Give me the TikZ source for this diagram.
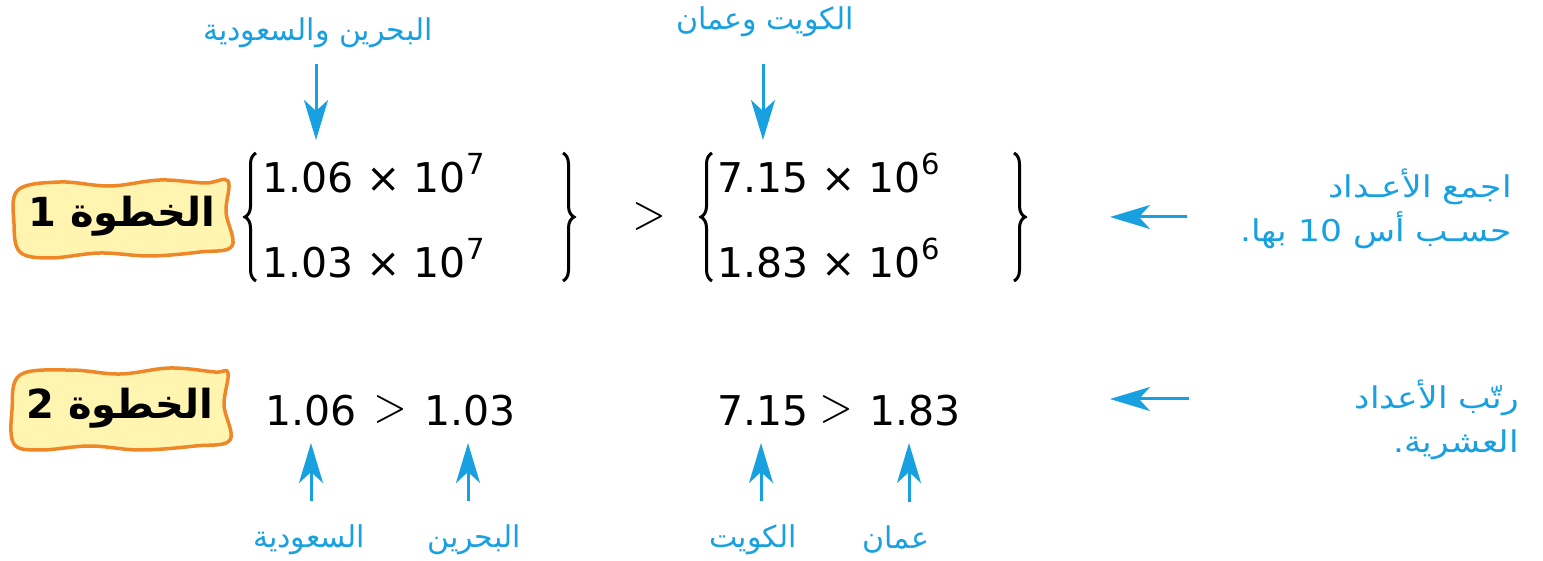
\documentclass[tikz,border=0pt]{standalone}
\usepackage{fontspec}
\setmainfont[Script=Latin]{DejaVu Sans}
\newfontfamily\numfont[Script=Latin]{DejaVu Sans}
\newfontfamily\arabicfont[Script=Arabic]{DejaVu Sans}
\newfontfamily\notefont[Script=Arabic,FakeStretch=1.15]{DejaVu Sans}
\TeXXeTstate=1
\usetikzlibrary{arrows.meta,decorations.pathreplacing}
\definecolor{cblue}{RGB}{24,160,224}
\definecolor{borange}{RGB}{238,135,40}
\definecolor{byellow}{RGB}{255,244,176}
\newcommand{\sq}[1]{\raisebox{18pt}{\fontsize{29}{29}\selectfont #1}}
\newcommand{\bigrel}{\scalebox{4.3}[4.8]{$>$}}
\begin{document}
\begin{tikzpicture}[x=1pt,y=-1pt,
 num/.style={font=\numfont\fontsize{41}{50}\selectfont, inner sep=0pt, anchor=base west},
 rel/.style={inner sep=0pt, anchor=center},
 lbl/.style={font=\arabicfont\fontsize{30}{36}\selectfont, text=cblue, inner sep=0pt},
 note/.style={font=\notefont\fontsize{30}{44}\selectfont, text=cblue, inner sep=0pt, align=right, anchor=north east},
 arr/.style={draw=cblue, line width=3pt, -{Stealth[length=40pt,width=24pt,inset=11pt]}},
 badge/.style={draw=borange, fill=byellow, line width=3.5pt},
 badgetext/.style={font=\arabicfont\bfseries\fontsize{40}{46}\selectfont, inner sep=0pt},
 bracestyle/.style={decorate, decoration={brace, amplitude=11pt}, line width=3pt}
]
\useasboundingbox (0,0) rectangle (1543,561);

% badges
\draw[badge] plot[smooth cycle, tension=0.6] coordinates {(18,190) (60,182) (110,186) (160,180) (205,183) (228,181) (226,212) (232,246) (200,252) (150,256) (100,253) (50,258) (20,252) (14,224)};
\node[badgetext] (b1) at (122,216) {\beginR الخطوة 1\endR};
\draw[badge] plot[smooth cycle, tension=0.6] coordinates {(20,375) (70,370) (120,374) (170,368) (215,372) (228,373) (224,405) (230,440) (195,446) (140,450) (90,446) (40,450) (14,444) (12,410)};
\node[badgetext] (b2) at (120,408) {\beginR الخطوة 2\endR};

% row 1 numbers
\node[num] (a1) at (262,193) {1.06 × 10\sq{7}};
\node[num] (a2) at (262,278) {1.03 × 10\sq{7}};
\node[num] (c1) at (717,193) {7.15 × 10\sq{6}};
\node[num] (c2) at (717,278) {1.83 × 10\sq{6}};
\node[rel] (gt) at (649,217) {\bigrel};
\draw[bracestyle] (256,281) -- (256,153);
\draw[bracestyle] (563,153) -- (563,281);
\draw[bracestyle] (712,281) -- (712,153);
\draw[bracestyle] (1014,153) -- (1014,281);

% row 2 numbers
\node[num] (r1a) at (265,425) {1.06};
\node[rel] (r1g) at (390,409) {\bigrel};
\node[num] (r1b) at (424,425) {1.03};
\node[num] (r2a) at (717,425) {7.15};
\node[rel] (r2g) at (836,409) {\bigrel};
\node[num] (r2b) at (869,425) {1.83};

% top labels
\node[lbl] (tA) at (318,33) {\beginR البحرين والسعودية\endR};
\node[lbl] (tB) at (765,22) {\beginR الكويت وعمان\endR};
\coordinate (tAe) at (316,140);
\coordinate (tBe) at (763,140);
\draw[arr] (tA.south -| tAe) ++(0,16) -- (tAe);
\draw[arr] (tB.south -| tBe) ++(0,27) -- (tBe);

% bottom labels
\node[lbl] (uA) at (309,540) {\beginR السعودية\endR};
\node[lbl] (uB) at (474,540) {\beginR البحرين\endR};
\node[lbl] (uC) at (753,540) {\beginR الكويت\endR};
\node[lbl] (uD) at (896,540) {\beginR عمان\endR};
\coordinate (uAe) at (311,443);
\coordinate (uBe) at (468,443);
\coordinate (uCe) at (761,443);
\coordinate (uDe) at (909,443);
\draw[arr] (uA.north -| uAe) ++(0,-24) -- (uAe);
\draw[arr] (uB.north -| uBe) ++(0,-24) -- (uBe);
\draw[arr] (uC.north -| uCe) ++(0,-24) -- (uCe);
\draw[arr] (uD.north -| uDe) ++(0,-24) -- (uDe);

% right notes
\node[note] (s1) at (1512,169)
 {\beginR اجمع الأعـداد\endR\\\beginR حسـب أس \beginL10\endL{} بها.\endR};
\node[note] (s2) at (1519,380)
 {\beginR رتّب الأعداد\endR\\\beginR العشرية.\endR};
\coordinate (s1s) at (1187,217);
\coordinate (s1e) at (1110,217);
\coordinate (s2s) at (1189,399);
\coordinate (s2e) at (1110,399);
\draw[arr] (s1s) -- (s1e);
\draw[arr] (s2s) -- (s2e);
\end{tikzpicture}
\end{document}
